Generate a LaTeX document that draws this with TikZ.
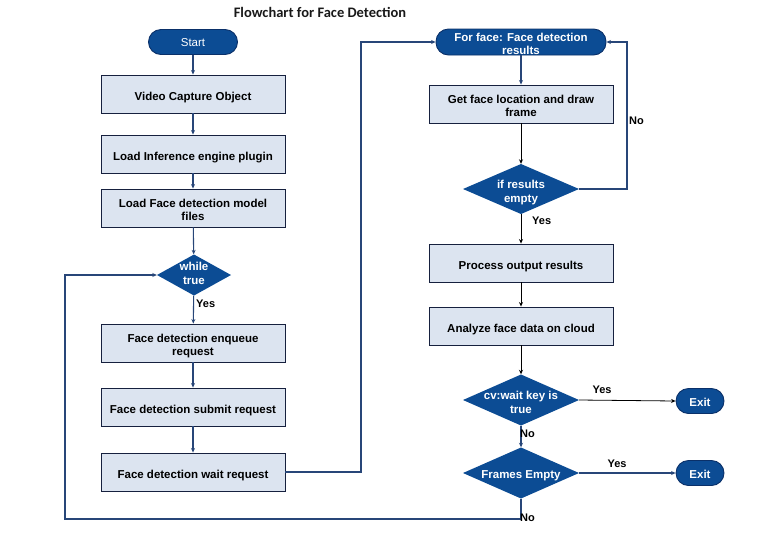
\documentclass[tikz,border=0pt]{standalone}
\usepackage{fontspec}
\setmainfont{Liberation Sans}
\newfontfamily\titlefont{Carlito}
\usetikzlibrary{arrows.meta}
\definecolor{pillblue}{RGB}{12,76,148}
\definecolor{pilledge}{RGB}{10,48,105}
\definecolor{boxfill}{RGB}{220,228,240}
\definecolor{boxedge}{RGB}{22,32,62}
\definecolor{linecol}{RGB}{40,70,120}
\newcommand\tx[2][-3.5pt]{\raisebox{#1}[\height][\depth]{\renewcommand\arraystretch{1}\setlength\tabcolsep{0pt}\begin{tabular}{c}#2\end{tabular}}}
\tikzset{
  pill/.style={draw=pilledge, line width=0.9pt, fill=pillblue, text=white, rounded corners=12.5pt,
    minimum height=25pt, inner sep=0pt, align=center, font=\bfseries\fontsize{11.5}{13}\selectfont},
  procbox/.style={draw=boxedge, line width=0.9pt, fill=boxfill, minimum width=184pt, minimum height=38pt,
    inner sep=0pt, align=center, font=\bfseries\fontsize{11.5}{13.5}\selectfont},
  decis/.style={draw=none, inner sep=0pt, align=center, text=white,
    font=\bfseries\fontsize{11.5}{13.5}\selectfont,
    path picture={\fill[pillblue] (path picture bounding box.north) -- (path picture bounding box.east)
      -- (path picture bounding box.south) -- (path picture bounding box.west) -- cycle;}},
  conn/.style={draw=linecol, line width=1.1pt, -{Stealth[length=4.5pt,width=4pt]}},
  bconn/.style={draw=black, line width=0.8pt, -{Stealth[length=4.5pt,width=4pt]}},
  lbl/.style={font=\bfseries\fontsize{11}{13}\selectfont, inner sep=0pt},
}
\begin{document}
\begin{tikzpicture}[x=1pt,y=-1pt]
\useasboundingbox (0,0) rectangle (757,542);
\node[font=\titlefont\bfseries\fontsize{14.5}{16}\selectfont, text=black!90] (title) at (320,12) {Flowchart for Face Detection};
% left column
\node[pill, minimum width=89pt, font=\fontsize{11.5}{13}\selectfont] (start) at (193,42) {\tx[-2pt]{Start}};
\node[procbox] (vco) at (193,94) {\tx{Video Capture Object}};
\node[procbox] (lie) at (193,154) {\tx{Load Inference engine plugin}};
\node[procbox] (lfd) at (193,208) {\tx{Load Face detection model\\files}};
\node[decis, minimum width=74pt, minimum height=41pt] (wt) at (194,275) {\tx[0pt]{while\\true}};
\node[procbox] (enq) at (193,343) {\tx{Face detection enqueue\\request}};
\node[procbox] (sub) at (193,407) {\tx{Face detection submit request}};
\node[procbox] (wait) at (193,472) {\tx{Face detection wait request}};
% right column
\node[pill, minimum width=170pt] (ff) at (521,42) {\tx[-3pt]{For face: Face detection\\results}};
\node[procbox] (gfl) at (521,104) {\tx{Get face location and draw\\frame}};
\node[decis, minimum width=116pt, minimum height=50pt] (ifr) at (521,189) {\tx[-4pt]{if results\\empty}};
\node[procbox] (por) at (521,263) {\tx{Process output results}};
\node[procbox] (afd) at (521,326) {\tx{Analyze face data on cloud}};
\node[decis, minimum width=116pt, minimum height=51pt] (cvw) at (521,400) {\tx[-4pt]{cv:wait key is\\true}};
\node[decis, minimum width=116pt, minimum height=51pt] (fe) at (521,473) {\tx[-3pt]{Frames Empty}};
\node[pill, minimum width=48pt] (ex1) at (700,401) {\tx[-2.5pt]{Exit}};
\node[pill, minimum width=48pt] (ex2) at (700,473) {\tx[-2.5pt]{Exit}};
% helper coordinates
\coordinate (rt) at (361,42);
\coordinate (nr) at (627,42);
\coordinate (lb) at (65,519);
% connectors left
\draw[conn] (start) -- (vco);
\draw[conn] (vco) -- (lie);
\draw[conn] (lie) -- (lfd);
\draw[conn] (lfd) -- (wt);
\draw[conn] (wt) -- (enq);
\node[lbl, anchor=west] (yes1) at (196,304) {Yes};
\draw[conn] (enq) -- (sub);
\draw[conn] (sub) -- (wait);
\draw[conn] (wait.east) -| (rt) -- (ff.west);
% connectors right
\draw[conn] (ff) -- (gfl);
\draw[bconn] (gfl) -- (ifr);
\draw[conn] (ifr.east) -| (nr) -- (ff.east);
\node[lbl, anchor=west] (no1) at (629,121) {No};
\draw[bconn] (ifr) -- (por);
\node[lbl, anchor=west] (yes2) at (532,221) {Yes};
\draw[bconn] (por) -- (afd);
\draw[bconn] (afd) -- (cvw);
\draw[bconn] (cvw.east) -- (ex1.west);
\node[lbl] (yes3) at (602,390) {Yes};
\draw[conn] (cvw.south) -- (fe.north);
\node[lbl, anchor=west] (no2) at (520,434) {No};
\draw[conn] (fe.east) -- (ex2.west);
\node[lbl] (yes4) at (617,464) {Yes};
\draw[conn] (fe.south) |- (lb) |- (wt.west);
\node[lbl, anchor=west] (no3) at (520,518) {No};
\end{tikzpicture}
\end{document}
